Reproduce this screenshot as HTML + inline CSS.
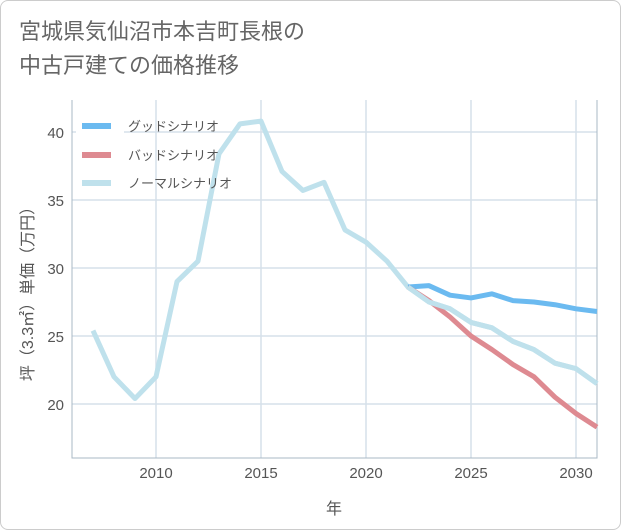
<!DOCTYPE html>
<html><head><meta charset="utf-8"><style>
body{margin:0;background:#fff;}
.card{position:relative;width:619px;height:528px;border:1px solid #ccc;border-radius:8px;background:#fff;font-family:"Liberation Sans","Noto Sans CJK JP",sans-serif;}
.title{position:absolute;left:18px;top:14px;font-size:22px;line-height:34px;color:#666;}
svg text{font-family:"Liberation Sans","Noto Sans CJK JP",sans-serif;}
</style></head><body>
<div class="card">
<div class="title">宮城県気仙沼市本吉町長根の<br>中古戸建ての価格推移</div>
<svg id="chart" width="621" height="530" style="position:absolute;left:-1px;top:-1px"></svg>
</div>
<script>
const years=[2007,2008,2009,2010,2011,2012,2013,2014,2015,2016,2017,2018,2019,2020,2021,2022,2023,2024,2025,2026,2027,2028,2029,2030,2031];
const normalVals=[25.4,22.0,20.4,22.0,29.0,30.5,38.4,40.6,40.8,37.1,35.7,36.3,32.8,31.9,30.5,28.6,27.5,27.0,26.0,25.6,24.6,24.0,23.0,22.6,21.5];
const scenYears=[2022,2023,2024,2025,2026,2027,2028,2029,2030,2031];
const goodVals=[28.6,28.7,28.0,27.8,28.1,27.6,27.5,27.3,27.0,26.8];
const badVals=[28.6,27.6,26.4,25.0,24.0,22.9,22.0,20.5,19.3,18.3];
const xTicks=[2010,2015,2020,2025,2030];
const yTicks=[20,25,30,35,40];
const NS='http://www.w3.org/2000/svg';
const svg=document.getElementById('chart');
const L=72,R=597,T=100,B=458;
const x=v=>L+(v-2006)*(R-L)/25;
const y=v=>132+(40-v)*13.6;
function mk(t,a){const e=document.createElementNS(NS,t);for(const k in a)e.setAttribute(k,a[k]);svg.appendChild(e);return e;}
xTicks.forEach(t=>{
 const l=mk('line',{x1:x(t),x2:x(t),y1:T,y2:B,stroke:'#d5e0ea','stroke-width':1.5});
 
 
 const tx=mk('text',{x:x(t),y:478,'text-anchor':'middle','font-size':15,fill:'#555'});tx.textContent=t;
 
 
});
yTicks.forEach(t=>{
 const l=mk('line',{x1:L,x2:R,y1:y(t),y2:y(t),stroke:'#d5e0ea','stroke-width':1.5});
 
 
 const tx=mk('text',{x:64,y:y(t)+6,'text-anchor':'end','font-size':15,fill:'#555'});tx.textContent=t;
 
 
});
const ax=mk('path',{d:`M${L} ${T}V${B}H${R}V${T}`,fill:'none',stroke:'#aab8c4','stroke-width':1});


function line(xs,vs,c,n){const p=mk('polyline',{points:xs.map((t,i)=>x(t)+','+y(vs[i])).join(' '),fill:'none',stroke:c,'stroke-width':5,'stroke-linejoin':'round'});
 
 }
line(years,normalVals,'#bfe1ec','normal-line');
line(scenYears,goodVals,'#6bbaf0','good-line');
line(scenYears,badVals,'#de8a91','bad-line');
line(years.slice(15),normalVals.slice(15),'#bfe1ec','normal-line-overlay');
const lg=mk('rect',{x:76,y:110,width:48,height:88,fill:'#fff'});


[['グッドシナリオ','#6bbaf0',126],['バッドシナリオ','#de8a91',155],['ノーマルシナリオ','#bfe1ec',183]].forEach(([t,c,yy],i)=>{
 const r=mk('line',{x1:82,x2:111,y1:yy,y2:yy,stroke:c,'stroke-width':6});
 
 
 const tx=mk('text',{x:128,y:yy+5,'font-size':13,fill:'#555'});tx.textContent=t;
 
 
});
const xt=mk('text',{x:334,y:514,'text-anchor':'middle','font-size':16,fill:'#555'});xt.textContent='年';


const yt=mk('text',{x:0,y:0,'text-anchor':'middle','font-size':16,fill:'#555',transform:'translate(33,290) rotate(-90)'});yt.textContent='坪（3.3㎡）単価（万円）';


</script>
</body></html>
